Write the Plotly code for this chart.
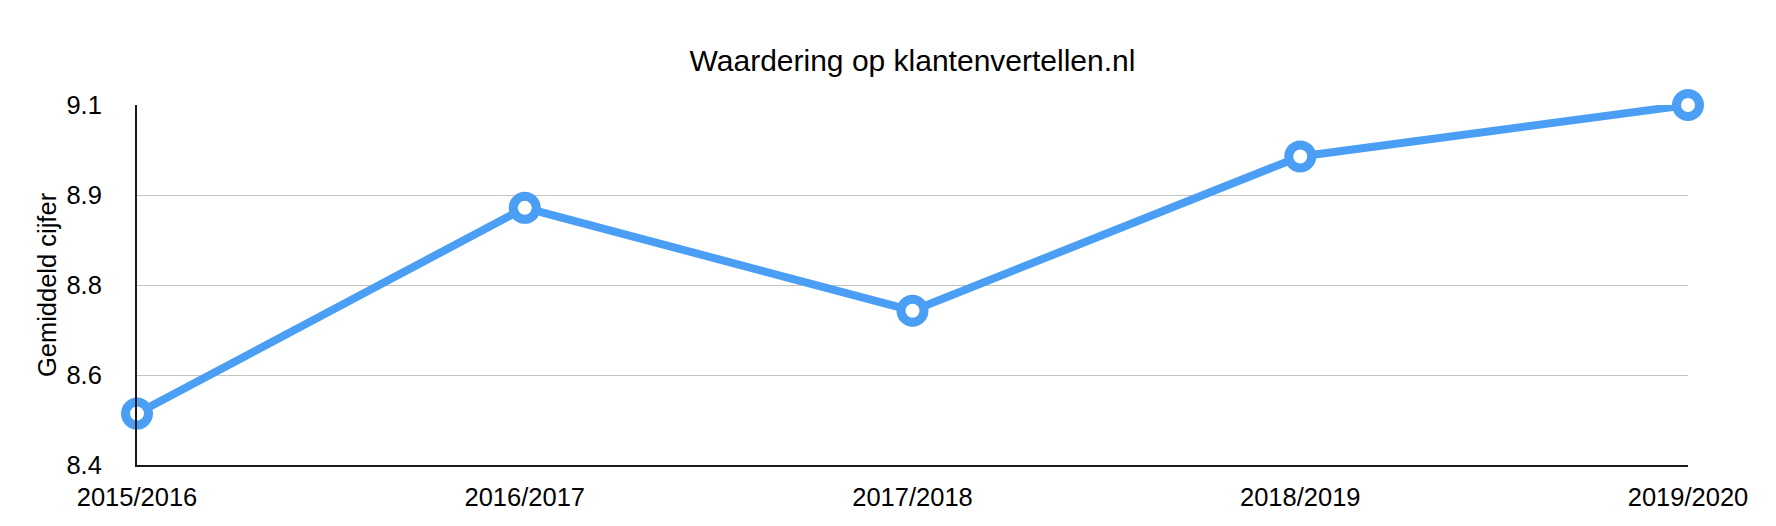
import plotly.graph_objects as go

seasons = ["2015/2016", "2016/2017", "2017/2018", "2018/2019", "2019/2020"]
avg_grade = [8.5, 8.9, 8.7, 9.0, 9.1]

y_tick_vals = [8.4, 8.575, 8.75, 8.925, 9.1]
y_tick_text = ["8.4", "8.6", "8.8", "8.9", "9.1"]

blue = "#4A9FF5"
font_family = "Liberation Sans, Arial, Helvetica, sans-serif"

# The page body has an 8px default margin, so the figure is sized to fit the window.
W, H = 1768, 518

fig = go.Figure()
fig.add_trace(go.Scatter(
    x=seasons,
    y=avg_grade,
    mode="lines+markers",
    line=dict(color=blue, width=8),
    marker=dict(size=23, color="white", line=dict(color=blue, width=9)),
    cliponaxis=False,
    showlegend=False,
))

fig.update_layout(
    width=W,
    height=H,
    margin=dict(l=129, r=88, t=97, b=61),
    paper_bgcolor="white",
    plot_bgcolor="white",
    font=dict(family=font_family, size=25.5, color="black"),
    title=dict(
        text="Waardering op klantenvertellen.nl",
        font=dict(family=font_family, size=30, color="black"),
        x=0.5, xref="paper", xanchor="center",
        y=1 - 52 / H, yref="container", yanchor="middle",
    ),
)

fig.update_xaxes(
    type="category",
    range=[0, len(seasons) - 1],
    showgrid=False,
    showline=True,
    linecolor="#1a1a1a",
    linewidth=2,
    ticks="",
    ticklabelstandoff=8,
    tickfont=dict(size=25.5, color="black"),
    zeroline=False,
)

fig.update_yaxes(
    range=[8.4, 9.1],
    tickmode="array",
    tickvals=y_tick_vals,
    ticktext=y_tick_text,
    showgrid=True,
    gridcolor="#c4c4c4",
    gridwidth=1,
    showline=True,
    linecolor="#1a1a1a",
    linewidth=2,
    ticks="",
    ticklabelstandoff=28,
    tickfont=dict(size=25.5, color="black"),
    zeroline=False,
    title=dict(text="Gemiddeld cijfer", font=dict(size=25.5, color="black"), standoff=3),
)

fig.write_html("out.html")
